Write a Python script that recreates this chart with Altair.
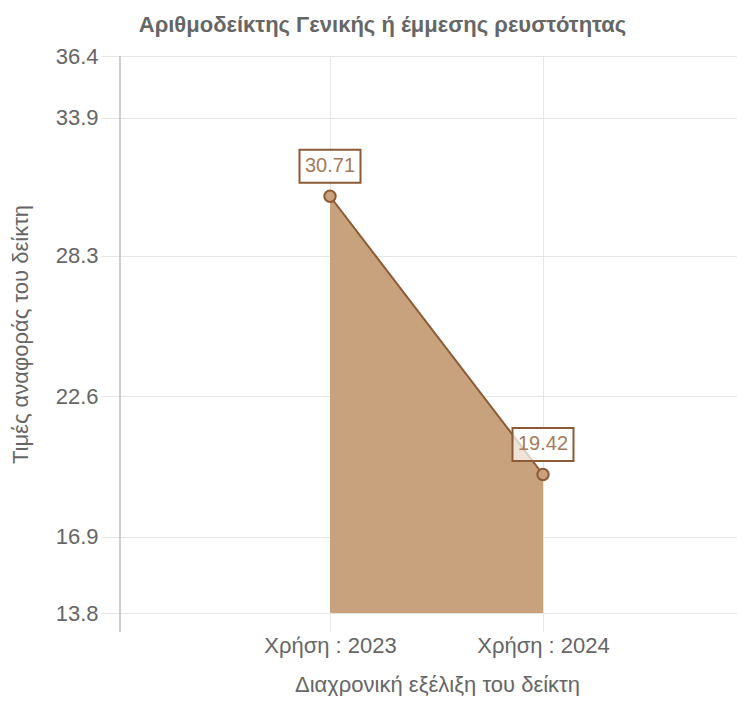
import altair as alt
import pandas as pd

categories = ["Χρήση : 2023", "Χρήση : 2024"]
values = [30.71, 19.42]
labels = ["30.71", "19.42"]
y_ticks = [13.8, 16.9, 22.6, 28.3, 33.9, 36.4]
y_min, y_max = 13.8, 36.4

positions = list(range(1, len(categories) + 1))
df = pd.DataFrame({"pos": positions, "cat": categories, "val": values, "lab": labels})

parts = ""
for p, c in zip(positions, categories):
    parts += f"datum.value == {p} ? '{c}' : "
label_expr = parts + "''"

FONT = "Liberation Sans"
TXT = "#666666"
GRID = "#e6e6e6"
FILL = "#c8a27c"
LINE = "#8c5a34"

x_scale = alt.Scale(domain=[0.0141, 2.9108], nice=False, zero=False)
x_enc = alt.X("pos:Q", scale=x_scale,
              axis=alt.Axis(title="Διαχρονική εξέλιξη του δείκτη", labelAngle=0,
                            values=positions, labelExpr=label_expr,
                            domain=False, grid=True, gridColor=GRID,
                            ticks=True, tickSize=19, tickColor=GRID,
                            labelFont=FONT, labelFontSize=22, labelColor=TXT,
                            labelPadding=3, labelFlush=False,
                            titleFont=FONT, titleFontSize=22, titleColor=TXT,
                            titleFontWeight="normal", titleX=317, titleY=71,
                            titleBaseline="middle", titleAlign="center"))
y_scale = alt.Scale(domain=[y_min, y_max], zero=False, nice=False)
y_enc = alt.Y("val:Q", scale=y_scale,
              axis=alt.Axis(title="Τιμές αναφοράς του δείκτη", values=y_ticks,
                            format=".1f", domain=False, grid=True, gridColor=GRID,
                            ticks=True, tickSize=19, tickColor=GRID,
                            labelFont=FONT, labelFontSize=22, labelColor=TXT,
                            labelPadding=3, labelFlush=False,
                            titleFont=FONT, titleFontSize=22, titleColor=TXT,
                            titleFontWeight="normal", titleX=-100, titleY=278,
                            titleBaseline="middle", titleAlign="center"))

base = alt.Chart(df)

area = base.mark_area(color=FILL, opacity=1).encode(
    x=x_enc, y=y_enc, y2=alt.datum(y_min))
line = base.mark_line(color=LINE, strokeWidth=2).encode(x="pos:Q", y="val:Q")
pts = base.mark_point(filled=True, fill=FILL, stroke=LINE, strokeWidth=2,
                      size=130, opacity=1).encode(x="pos:Q", y="val:Q")

yaxis_line = alt.Chart(pd.DataFrame({"a": [y_max], "b": [y_min]})).mark_rule(
    color="#bdbdbd", strokeWidth=1.5, y2Offset=19).encode(
    x=alt.value(0), y=alt.Y("a:Q", scale=y_scale), y2="b:Q")

box = base.mark_rect(width=61, height=33, fill="white", fillOpacity=0.7,
                     stroke=LINE, strokeWidth=2, yOffset=-30).encode(
    x="pos:Q", y="val:Q")
txt = base.mark_text(font=FONT, fontSize=20, color="#a57a5a", dy=-30,
                     baseline="middle", align="center").encode(
    x="pos:Q", y="val:Q", text="lab:N")

chart = alt.layer(area, yaxis_line, line, pts, box, txt).properties(
    width=617, height=557,
    autosize=alt.AutoSizeParams(type="none"),
    padding={"left": 112, "top": 48, "right": 0, "bottom": 83},
    title=alt.TitleParams("Αριθμοδείκτης Γενικής ή έμμεσης ρευστότητας",
                          font=FONT, fontSize=22, fontWeight="bold", color=TXT,
                          anchor="middle", dx=-46, offset=8),
).configure_view(stroke=None)

chart.save("out.html", embed_options={"renderer": "svg", "actions": False})
